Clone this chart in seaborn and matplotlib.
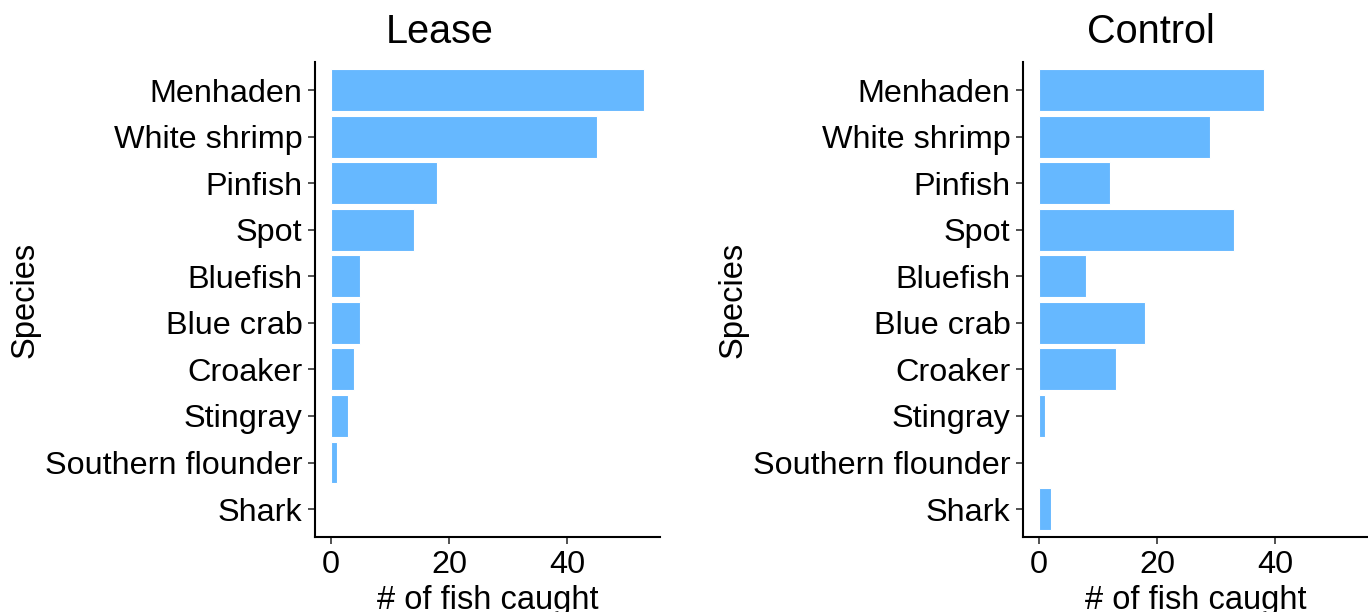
import pandas as pd
import matplotlib
matplotlib.use("Agg")
import matplotlib.pyplot as plt
import seaborn as sns

# data
species = ["Menhaden", "White shrimp", "Pinfish", "Spot", "Bluefish",
           "Blue crab", "Croaker", "Stingray", "Southern flounder", "Shark"]
lease_counts = [53, 45, 18, 14, 5, 5, 4, 3, 1, 0]
control_counts = [38, 29, 12, 33, 8, 18, 13, 1, 0, 2]
panels = ["Lease", "Control"]
x_ticks = [0, 20, 40]

df = pd.DataFrame({
    "Species": species * 2,
    "Count": lease_counts + control_counts,
    "Site": ["Lease"] * len(species) + ["Control"] * len(species),
})

sns.set_theme(style="white")
plt.rcParams["font.family"] = ["Liberation Sans", "DejaVu Sans"]
plt.rcParams["text.color"] = "black"
plt.rcParams["axes.labelcolor"] = "black"

fig = plt.figure(figsize=(13.68, 6.12), dpi=100)
bar_color = "#66B8FF"
xmax = df["Count"].max()
pad = xmax * 0.05

lefts = [315 / 1368, 1023 / 1368]
title_x = [0.36, 0.37]
for site, left, tx in zip(panels, lefts, title_x):
    ax = fig.add_axes([left, 0.1225, 0.2522, 0.776])
    sub = df[df["Site"] == site]
    sns.barplot(data=sub, x="Count", y="Species", order=species, orient="h",
                color=bar_color, saturation=1, width=0.9, edgecolor="white",
                linewidth=0.8, ax=ax)
    ax.set_xlim(-pad, xmax + pad)
    ax.set_ylim(len(species) - 0.4, -0.6)
    ax.set_xticks(x_ticks)
    ax.set_title(site, fontsize=28.5, pad=14, x=tx, color="black")
    ax.set_xlabel("# of fish caught", fontsize=23.5, labelpad=4)
    ax.set_ylabel("Species", fontsize=23.5, labelpad=3)
    ax.tick_params(axis="both", labelsize=23.3, length=5, width=1.2,
                   color="#333333", labelcolor="black", pad=4, direction="out")
    ax.tick_params(axis="x", bottom=True)
    ax.tick_params(axis="y", left=True)
    for side in ["top", "right"]:
        ax.spines[side].set_visible(False)
    for side in ["left", "bottom"]:
        ax.spines[side].set_color("black")
        ax.spines[side].set_linewidth(1.5)
    ax.grid(False)

fig.savefig("out.png", dpi=100)
